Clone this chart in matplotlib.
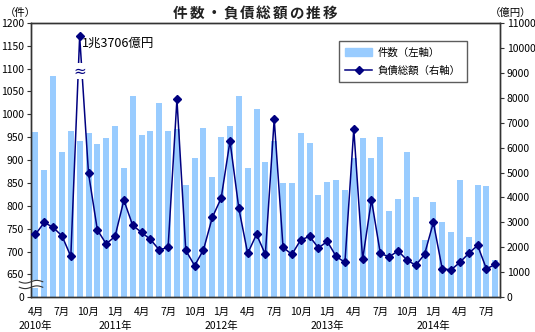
import numpy as np
import matplotlib
matplotlib.use('Agg')
from matplotlib import pyplot as plt
from matplotlib.patches import Rectangle
from matplotlib.lines import Line2D

plt.rcParams['font.family'] = ['Noto Sans CJK JP', 'DejaVu Sans']

# 2010年4月〜2014年8月 (53か月)
months = [4, 5, 6, 7, 8, 9, 10, 11, 12] + list(range(1, 13)) * 3 + [1, 2, 3, 4, 5, 6, 7, 8]
years = [2010] * 9 + [2011] * 12 + [2012] * 12 + [2013] * 12 + [2014] * 8

# 件数 (左軸)
counts = [961, 878, 1083, 917, 963, 942, 959, 935, 948, 974, 883, 1040,
          955, 963, 1024, 963, 968, 845, 904, 970, 863, 950, 974, 1040,
          883, 1011, 896, 942, 850, 850, 959, 937, 824, 852, 856, 834,
          904, 948, 904, 950, 789, 815, 917, 820, 725, 809, 765, 743,
          856, 732, 845, 843, 682]

# 負債総額 (右軸, 億円)
debt = [2520, 3000, 2800, 2460, 1640, 13706, 4970, 2700, 2140, 2440, 3890, 2880,
        2600, 2320, 1900, 2000, 7930, 1880, 1270, 1900, 3200, 3970, 6260, 3560,
        1760, 2520, 1720, 7140, 2000, 1720, 2300, 2440, 1980, 2240, 1640, 1400,
        6740, 1520, 3900, 1760, 1620, 1860, 1500, 1280, 1720, 3000, 1140, 1100,
        1400, 1760, 2080, 1140, 1320]

DEBT_CAP = 10460  # 1兆3706億円は上限で打ち切り表示

x = np.arange(len(months))
debt_plot = np.minimum(debt, DEBT_CAP)

fig = plt.figure(figsize=(5.35, 3.32), dpi=100)
ax = fig.add_axes([0.058, 0.1045, 0.876, 0.827])
ax2 = ax.twinx()

bar_c = '#99CCFF'
line_c = '#000080'
frame_c = '#333333'

ax.bar(x, np.array(counts) - 600, bottom=600, width=0.68, color=bar_c, zorder=2)
ax.set_ylim(600, 1200)
ax.set_xlim(-0.5, len(months) - 0.5)
yt = np.arange(600, 1201, 50)
ax.set_yticks(yt)
ax.set_yticklabels(['0'] + [str(v) for v in yt[1:]])

ax2.plot(x, debt_plot, color=line_c, lw=1.1, marker='D', ms=4.5, zorder=3)
ax2.set_ylim(0, 11000)
ax2.set_yticks(np.arange(0, 11001, 1000))

ax.set_zorder(ax2.get_zorder() - 1)
ax2.patch.set_visible(False)

for a in (ax, ax2):
    for s in a.spines.values():
        s.set_color(frame_c)
        s.set_linewidth(1)
    a.tick_params(axis='y', labelsize=7.5, length=3, width=0.8, color=frame_c, pad=2)

idx = [i for i, m in enumerate(months) if m in (1, 4, 7, 10)]
ax.set_xticks(idx)
ax.set_xticklabels([f'{months[i]}月' for i in idx])
ax.tick_params(axis='x', labelsize=7.5, length=0, pad=7)

# 年ラベル
for i, (m, yv) in enumerate(zip(months, years)):
    if i == 0 or m == 1:
        ax.text(i, -0.104, f'{yv}年', transform=ax.get_xaxis_transform(),
                ha='center', va='center', fontsize=7.5)

# 左軸の省略記号
tr = ax.get_yaxis_transform()
ax.add_patch(Rectangle((-0.02, 620), 0.04, 18, transform=tr, facecolor='white',
                       edgecolor='none', clip_on=False, zorder=5))
ws = np.linspace(-0.025, 0.025, 20)
for off in (622, 634):
    ax.plot(ws, off + 3 * np.sin(ws / 0.025 * np.pi), transform=tr, color=frame_c,
            lw=0.8, clip_on=False, zorder=6)

# 折れ線の省略記号
pk = int(np.argmax(debt))
ax2.text(pk, 9070, '≈', ha='center', va='center', fontsize=11, color=line_c,
         family='DejaVu Sans',
         bbox=dict(facecolor='white', edgecolor='none', pad=0.2), zorder=4)
ax2.text(pk + 0.3, DEBT_CAP - 300, '1兆3706億円', ha='left', va='center', fontsize=9)

# タイトル (字間を空けて配置)
title = '件数・負債総額の推移'
for k, ch in enumerate(title):
    fig.text((180.5 + k * 16.6) / 535, 0.962, ch, ha='center', va='center',
             fontsize=10.5, fontweight='bold', color='#222222')
fig.text(0.038, 0.962, '（件）', ha='center', va='center', fontsize=7.5)
fig.text(0.955, 0.962, '（億円）', ha='center', va='center', fontsize=7.5)

# 凡例
handles = [Rectangle((0, 0), 1, 1, color=bar_c),
           Line2D([], [], color=line_c, lw=1.1, marker='D', ms=4.5)]
leg = ax2.legend(handles, ['件数（左軸）', '負債総額（右軸）'],
                 loc='upper left', bbox_to_anchor=(0.657, 0.933), fontsize=7.5,
                 frameon=True, fancybox=False, edgecolor=frame_c,
                 handlelength=2.6, handletextpad=0.5, borderpad=0.6,
                 labelspacing=0.8, borderaxespad=0)
leg.get_frame().set_linewidth(1)

fig.savefig('out.png', dpi=100)
